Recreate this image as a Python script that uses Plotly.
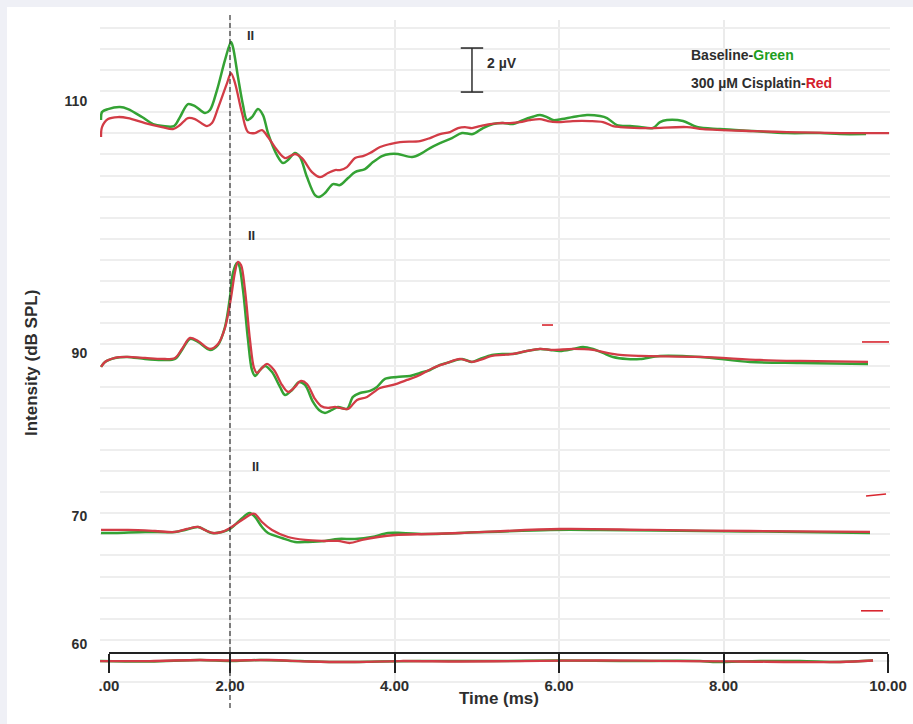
import plotly.graph_objects as go

# ---------------------------------------------------------------------------
# ABR waveforms: time in ms, amplitude in µV relative to each row's label line
# ---------------------------------------------------------------------------
t_110_green = [0.432, 0.444, 0.517, 0.663, 0.760, 0.930, 1.064, 1.185, 1.319, 1.392,
               1.489, 1.574, 1.696, 1.757, 1.842, 1.939, 2.012, 2.036, 2.097, 2.158,
               2.207, 2.267, 2.340, 2.401, 2.462, 2.571, 2.644, 2.705, 2.790, 2.851,
               2.936, 3.033, 3.082, 3.155, 3.252, 3.337, 3.435, 3.520, 3.641, 3.739,
               3.848, 3.945, 4.043, 4.213, 4.334, 4.432, 4.553, 4.699, 4.821, 4.954,
               5.076, 5.198, 5.319, 5.441, 5.562, 5.672, 5.769, 5.854, 5.927, 6.036,
               6.170, 6.340, 6.499, 6.584, 6.705, 6.863, 6.985, 7.143, 7.228, 7.313,
               7.508, 7.678, 7.957, 8.359, 8.772, 9.173, 9.416, 9.733]
uv_110_green = [-0.864, -0.500, -0.364, -0.273, -0.364, -0.727, -1.045, -1.136, -1.136, -0.727,
                -0.136, -0.227, -0.545, -0.409, 0.500, 1.864, 2.682, 2.455, 1.091, -0.182,
                -0.864, -0.727, -0.364, -0.636, -1.455, -2.455, -2.818, -2.682, -2.364, -2.545,
                -3.455, -4.273, -4.364, -4.182, -3.773, -3.818, -3.500, -3.227, -3.091, -2.773,
                -2.500, -2.409, -2.409, -2.545, -2.364, -2.136, -1.909, -1.682, -1.455, -1.500,
                -1.227, -1.045, -1.000, -1.045, -0.864, -0.727, -0.636, -0.727, -0.864, -0.818,
                -0.727, -0.636, -0.682, -0.773, -1.091, -1.136, -1.182, -1.227, -0.955, -0.864,
                -0.909, -1.182, -1.273, -1.364, -1.455, -1.455, -1.500, -1.500]

t_110_red = [0.432, 0.444, 0.517, 0.638, 0.760, 0.967, 1.173, 1.307, 1.392, 1.489,
             1.574, 1.720, 1.781, 1.854, 1.964, 2.012, 2.061, 2.146, 2.219, 2.304,
             2.389, 2.462, 2.571, 2.669, 2.790, 2.875, 2.997, 3.094, 3.191, 3.277,
             3.337, 3.422, 3.520, 3.617, 3.702, 3.824, 3.945, 4.067, 4.310, 4.432,
             4.553, 4.675, 4.772, 4.857, 4.942, 5.040, 5.161, 5.283, 5.404, 5.526,
             5.647, 5.769, 5.866, 5.976, 6.170, 6.377, 6.535, 6.657, 6.742, 6.985,
             7.143, 7.556, 7.751, 8.359, 8.772, 9.416, 10.012]
uv_110_red = [-1.636, -1.182, -0.818, -0.727, -0.773, -1.000, -1.182, -1.273, -1.091, -0.773,
              -0.818, -1.136, -1.000, -0.318, 0.818, 1.273, 0.818, -0.545, -1.409, -1.455,
              -1.318, -1.636, -2.227, -2.591, -2.409, -2.591, -3.227, -3.455, -3.273, -3.136,
              -3.136, -3.000, -2.591, -2.500, -2.364, -2.091, -1.955, -1.864, -1.818, -1.682,
              -1.500, -1.409, -1.227, -1.182, -1.227, -1.136, -1.045, -1.000, -1.000, -0.955,
              -0.864, -0.818, -0.909, -0.955, -0.909, -0.909, -0.955, -1.136, -1.182, -1.227,
              -1.227, -1.182, -1.273, -1.364, -1.409, -1.455, -1.455]

t_90_green = [0.432, 0.480, 0.602, 0.748, 0.967, 1.173, 1.331, 1.416, 1.514, 1.611,
              1.757, 1.854, 1.939, 2.000, 2.036, 2.085, 2.109, 2.158, 2.219, 2.267,
              2.304, 2.365, 2.426, 2.511, 2.608, 2.669, 2.754, 2.839, 2.912, 3.009,
              3.082, 3.155, 3.240, 3.313, 3.422, 3.495, 3.581, 3.702, 3.787, 3.884,
              4.030, 4.188, 4.310, 4.432, 4.553, 4.675, 4.821, 4.942, 5.040, 5.185,
              5.319, 5.441, 5.611, 5.769, 5.891, 6.012, 6.170, 6.292, 6.413, 6.535,
              6.657, 6.827, 6.985, 7.228, 7.714, 8.322, 8.930, 9.757]
uv_90_green = [-0.636, -0.409, -0.227, -0.182, -0.273, -0.318, -0.273, 0.136, 0.636, 0.500,
               0.136, 0.364, 1.182, 2.545, 3.636, 4.091, 4.000, 2.864, 0.591, -0.773,
               -1.045, -0.773, -0.591, -0.864, -1.545, -1.909, -1.682, -1.318, -1.455, -2.227,
               -2.591, -2.727, -2.591, -2.455, -2.545, -2.000, -1.818, -1.727, -1.545, -1.182,
               -1.091, -1.045, -0.909, -0.773, -0.545, -0.409, -0.273, -0.409, -0.273, -0.091,
               -0.045, -0.045, 0.091, 0.182, 0.136, 0.091, 0.182, 0.273, 0.182, 0.000,
               -0.182, -0.273, -0.273, -0.136, -0.182, -0.409, -0.455, -0.500]

t_90_red = [0.432, 0.480, 0.602, 0.748, 0.967, 1.173, 1.331, 1.416, 1.514, 1.611,
            1.757, 1.854, 1.939, 2.012, 2.061, 2.097, 2.134, 2.182, 2.243, 2.292,
            2.328, 2.389, 2.450, 2.535, 2.632, 2.705, 2.778, 2.863, 2.936, 3.033,
            3.106, 3.191, 3.277, 3.337, 3.435, 3.544, 3.666, 3.824, 3.982, 4.152,
            4.310, 4.468, 4.638, 4.796, 4.942, 5.040, 5.185, 5.319, 5.441, 5.611,
            5.769, 5.927, 6.170, 6.413, 6.584, 6.742, 6.985, 7.714, 8.444, 8.930,
            9.757]
uv_90_red = [-0.636, -0.409, -0.227, -0.182, -0.227, -0.273, -0.227, 0.182, 0.682, 0.545,
             0.182, 0.409, 1.136, 2.500, 3.682, 4.136, 4.000, 2.864, 0.591, -0.682,
             -0.909, -0.682, -0.500, -0.773, -1.455, -1.773, -1.591, -1.273, -1.409, -2.091,
             -2.409, -2.500, -2.455, -2.500, -2.545, -2.136, -2.000, -1.591, -1.455, -1.227,
             -1.000, -0.682, -0.455, -0.273, -0.409, -0.318, -0.136, -0.091, -0.045, 0.091,
             0.182, 0.136, 0.182, 0.136, 0.000, -0.091, -0.136, -0.182, -0.318, -0.364,
             -0.409]

t_70_green = [0.432, 0.602, 0.967, 1.331, 1.453, 1.611, 1.696, 1.781, 1.903, 2.000,
              2.097, 2.207, 2.243, 2.304, 2.389, 2.462, 2.632, 2.790, 2.948, 3.155,
              3.313, 3.520, 3.726, 3.921, 4.091, 4.407, 4.796, 5.891, 6.499, 7.714,
              8.930, 9.781]
uv_70_green = [-0.773, -0.773, -0.727, -0.727, -0.636, -0.500, -0.636, -0.773, -0.727, -0.591,
               -0.273, 0.091, 0.136, -0.045, -0.500, -0.773, -1.000, -1.182, -1.182, -1.136,
               -1.045, -1.045, -0.955, -0.773, -0.773, -0.818, -0.773, -0.636, -0.636, -0.682,
               -0.727, -0.773]

t_70_red = [0.432, 0.760, 1.088, 1.331, 1.477, 1.611, 1.720, 1.793, 1.903, 2.000,
            2.146, 2.267, 2.304, 2.389, 2.511, 2.705, 2.912, 3.119, 3.313, 3.459,
            3.605, 3.799, 4.006, 4.407, 4.796, 6.012, 7.106, 8.322, 9.781]
uv_70_red = [-0.636, -0.636, -0.682, -0.727, -0.591, -0.500, -0.682, -0.773, -0.727, -0.545,
             -0.182, 0.091, 0.091, -0.273, -0.636, -0.955, -1.091, -1.136, -1.136, -1.227,
             -1.091, -0.955, -0.864, -0.818, -0.773, -0.591, -0.636, -0.682, -0.727]

t_60_green = [0.420, 1.027, 1.635, 2.000, 2.365, 2.851, 3.337, 3.824, 4.310, 5.283,
              6.012, 6.742, 7.714, 7.872, 8.444, 8.930, 9.416, 9.818]
uv_60_green = [-0.773, -0.795, -0.727, -0.773, -0.727, -0.773, -0.818, -0.795, -0.773, -0.773,
               -0.750, -0.773, -0.773, -0.818, -0.773, -0.773, -0.818, -0.750]

t_60_red = [0.420, 1.027, 1.635, 2.000, 2.486, 2.973, 3.459, 4.067, 4.796, 5.526,
            6.499, 7.471, 8.201, 9.416, 9.818]
uv_60_red = [-0.773, -0.773, -0.727, -0.750, -0.727, -0.795, -0.818, -0.773, -0.795, -0.773,
             -0.750, -0.773, -0.795, -0.818, -0.750]

# short red fragments left over at the right margin (time pairs, absolute µV pairs)
frag_t = [[5.793, 5.927], [9.684, 10.012], [9.733, 9.976], [9.672, 9.939]]
frag_uv = [[16.59, 16.59], [15.82, 15.82], [8.82, 8.91], [3.60, 3.60]]

levels = ["110", "90", "70", "60"]
time_tick_values = [0.529, 2.0, 4.0, 6.0, 8.0, 10.0]
time_tick_labels = [".00", "2.00", "4.00", "6.00", "8.00", "10.00"]
wave_ii_ref_ms = 2.0
scale_bar_uv = 2.0

# ---------------------------------------------------------------------------
# layout constants
# ---------------------------------------------------------------------------
FONT = "Liberation Sans, Arial, sans-serif"
INK = "#2e2e2e"
GREEN = "#34a234"
RED = "#d23c46"
ROW_LINE = {"110": 26.77, "90": 15.32, "70": 7.91, "60": 2.09}
Y_RANGE = [0, 30.4545]
X_RANGE = [0.4195, 10.0243]

series = {
    "110": (t_110_green, uv_110_green, t_110_red, uv_110_red),
    "90": (t_90_green, uv_90_green, t_90_red, uv_90_red),
    "70": (t_70_green, uv_70_green, t_70_red, uv_70_red),
    "60": (t_60_green, uv_60_green, t_60_red, uv_60_red),
}

fig = go.Figure()

for lvl in levels:
    tg, ug, tr, ur = series[lvl]
    base = ROW_LINE[lvl]
    fig.add_trace(go.Scatter(
        x=tg, y=[base + u for u in ug], mode="lines",
        line=dict(color=GREEN, width=2.5, shape="spline", smoothing=0.9),
        hoverinfo="skip", showlegend=False))
    fig.add_trace(go.Scatter(
        x=tr, y=[base + u for u in ur], mode="lines",
        line=dict(color=RED, width=2.3, shape="spline", smoothing=0.9),
        hoverinfo="skip", showlegend=False))

for ft, fu in zip(frag_t, frag_uv):
    fig.add_trace(go.Scatter(x=ft, y=fu, mode="lines",
                             line=dict(color="#d8262f", width=1.6),
                             hoverinfo="skip", showlegend=False))

# 2 µV calibration bar
bar_t = 4.942
bar_base = 27.18
fig.add_trace(go.Scatter(
    x=[bar_t, bar_t], y=[bar_base, bar_base + scale_bar_uv], mode="lines+markers",
    line=dict(color=INK, width=1.5),
    marker=dict(symbol="line-ew", size=16, line=dict(color=INK, width=1.6)),
    hoverinfo="skip", showlegend=False))

# carriers for the grid axis and the time axis
fig.add_trace(go.Scatter(x=[], y=[], yaxis="y2", showlegend=False, hoverinfo="skip"))
fig.add_trace(go.Scatter(x=[], y=[], xaxis="x2", showlegend=False, hoverinfo="skip"))

bold = dict(family=FONT, color=INK, weight="bold")

annotations = [
    dict(text="II", x=2.255, y=29.73, xref="x", yref="y", showarrow=False,
         xanchor="center", yanchor="middle", font=dict(size=13, **bold)),
    dict(text="II", x=2.267, y=20.68, xref="x", yref="y", showarrow=False,
         xanchor="center", yanchor="middle", font=dict(size=13, **bold)),
    dict(text="II", x=2.304, y=10.14, xref="x", yref="y", showarrow=False,
         xanchor="center", yanchor="middle", font=dict(size=13, **bold)),
    dict(text="2 µV", x=5.10, y=28.5, xref="x", yref="y", xanchor="left",
         yanchor="middle", showarrow=False, font=dict(size=14, **bold)),
    dict(text="Baseline-<span style='color:#1e9e1e'>Green</span>",
         x=0.7456, y=0.9478, xref="paper", yref="paper", xanchor="left",
         yanchor="middle", showarrow=False, font=dict(size=14, **bold)),
    dict(text="300 µM Cisplatin-<span style='color:#d4202b'>Red</span>",
         x=0.7456, y=0.906, xref="paper", yref="paper", xanchor="left",
         yanchor="middle", showarrow=False, font=dict(size=14, **bold)),
    dict(text="Time (ms)", x=0.505, y=-0.0134, xref="paper", yref="paper",
         xanchor="center", yanchor="middle", showarrow=False,
         font=dict(size=17, **bold)),
    dict(text="Intensity (dB SPL)", x=-0.0873, y=0.488, xref="paper", yref="paper",
         xanchor="center", yanchor="middle", textangle=-90, showarrow=False,
         font=dict(size=17, **bold)),
]

shapes = [
    # white panel behind everything
    dict(type="rect", xref="paper", yref="paper", x0=-0.1177, x1=1.03, y0=-0.06, y1=1.0194,
         fillcolor="white", line=dict(width=0), layer="below"),
    # wave II alignment marker
    dict(type="line", xref="x", yref="paper", x0=wave_ii_ref_ms, x1=wave_ii_ref_ms,
         y0=-0.027, y1=1.012, line=dict(color="#333333", width=1.2, dash="5px,3px")),
]

fig.update_layout(
    template="none",
    width=913, height=724,
    margin=dict(l=100, r=23, t=20, b=34, autoexpand=False),
    paper_bgcolor="#eff0f6",
    plot_bgcolor="rgba(0,0,0,0)",
    font=dict(family=FONT, color=INK),
    showlegend=False,
    annotations=annotations,
    shapes=shapes,
    xaxis=dict(domain=[0, 1], range=X_RANGE, tickvals=[2, 4, 6, 8],
               showticklabels=False, ticks="", showgrid=True, automargin=False,
               gridcolor="#ebebeb", gridwidth=2, zeroline=False, showline=False),
    xaxis2=dict(domain=[0.0114, 0.9975], anchor="free", position=0.0552,
                range=[time_tick_values[0], 10.0], automargin=False,
                tickvals=time_tick_values, ticktext=time_tick_labels,
                ticks="outside", ticklen=19, tickwidth=1.5, tickcolor="#222222",
                showline=True, linecolor="#222222", linewidth=1.5,
                showgrid=False, zeroline=False,
                tickfont=dict(size=15, **bold)),
    yaxis=dict(domain=[0, 1], range=Y_RANGE, automargin=False,
               tickvals=[ROW_LINE[l] for l in levels], ticktext=levels,
               ticks="outside", ticklen=9, tickcolor="rgba(0,0,0,0)",
               showgrid=False, zeroline=False, showline=False,
               tickfont=dict(size=14, **bold)),
    yaxis2=dict(overlaying="y", range=[-0.379, 31.374], tickvals=list(range(32)),
                showticklabels=False, ticks="", showgrid=True, automargin=False,
                gridcolor="#eeeeee", gridwidth=1.5, zeroline=False, showline=False),
)

fig.write_html("out.html")
